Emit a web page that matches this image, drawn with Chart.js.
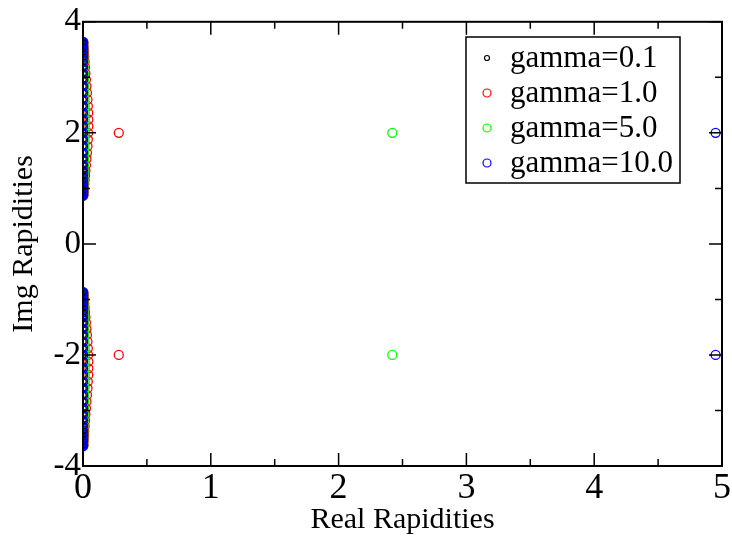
<!DOCTYPE html>
<html>
<head>
<meta charset="utf-8">
<title>Rapidities</title>
<script src="https://cdn.jsdelivr.net/npm/chart.js@4/dist/chart.umd.min.js"></script>
<style>
    html, body { margin: 0; padding: 0; background: #fff; }
    #wrap { width: 732px; height: 541px; }
</style>
</head>
<body>
<div id="wrap"><canvas id="chart" width="732" height="541"></canvas></div>
<script>
// imaginary parts of the string-like cluster (upper and lower half)
const imagUpper = [0.87, 0.88, 0.90, 0.93, 0.97, 1.02, 1.08, 1.15, 1.23, 1.32, 1.42, 1.53, 1.64, 1.76,
    1.88, 2.00, 2.12, 2.24, 2.36, 2.48, 2.60, 2.72, 2.84, 2.96, 3.07, 3.18, 3.28, 3.37, 3.45, 3.52,
    3.57, 3.61, 3.63, 3.64];
const imagLower = [-0.87, -0.88, -0.90, -0.93, -0.97, -1.02, -1.08, -1.15, -1.23, -1.32, -1.42, -1.53, -1.64, -1.76,
    -1.88, -2.00, -2.12, -2.24, -2.36, -2.48, -2.60, -2.72, -2.84, -2.96, -3.07, -3.18, -3.28, -3.37, -3.45, -3.52,
    -3.57, -3.61, -3.63, -3.64];

// real parts of the cluster for each gamma
const realG01 = [0.001, 0.001, 0.001, 0.001, 0.001, 0.001, 0.002, 0.002, 0.002, 0.002, 0.002, 0.002, 0.002, 0.002,
    0.002, 0.002, 0.002, 0.002, 0.002, 0.002, 0.002, 0.002, 0.002, 0.002, 0.002, 0.002, 0.002, 0.002, 0.001, 0.001,
    0.001, 0.001, 0.001, 0.001];
const realG1 = [0.002, 0.003, 0.004, 0.005, 0.006, 0.008, 0.010, 0.013, 0.016, 0.019, 0.023, 0.027, 0.031, 0.035,
    0.038, 0.040, 0.042, 0.042, 0.041, 0.038, 0.035, 0.031, 0.027, 0.023, 0.019, 0.016, 0.013, 0.010, 0.008, 0.006,
    0.004, 0.003, 0.002, 0.002];
const realG5 = [0.001, 0.001, 0.001, 0.002, 0.002, 0.003, 0.004, 0.005, 0.006, 0.007, 0.008, 0.010, 0.011, 0.012,
    0.013, 0.014, 0.014, 0.014, 0.014, 0.013, 0.012, 0.011, 0.010, 0.008, 0.007, 0.006, 0.005, 0.004, 0.003, 0.002,
    0.002, 0.001, 0.001, 0.001];
const realG10 = [0.000, 0.000, 0.000, 0.001, 0.001, 0.001, 0.001, 0.001, 0.001, 0.001, 0.001, 0.001, 0.001, 0.001,
    0.001, 0.001, 0.001, 0.001, 0.001, 0.001, 0.001, 0.001, 0.001, 0.001, 0.001, 0.001, 0.001, 0.001, 0.001, 0.001,
    0.000, 0.000, 0.000, 0.000];

// the isolated pair (real, +/-imag) that leaves the axis
const isolatedReal = [null, 0.28, 2.42, 4.95];
const isolatedImag = [2.0, -2.0];

const seriesLabels = ['gamma=0.1', 'gamma=1.0', 'gamma=5.0', 'gamma=10.0'];
const seriesColors = ['#000000', '#ff0000', '#00ff00', '#0000ff'];
const seriesReal = [realG01, realG1, realG5, realG10];
const seriesOrder = [1, 3, 2, 0]; // blue on top, black just under it

const xTicks = [0, 1, 2, 3, 4, 5];
const yTicks = [-4, -2, 0, 2, 4];

const SERIF = '"Liberation Serif", "DejaVu Serif", serif';

function buildPoints(i) {
    const pts = [];
    seriesReal[i].forEach((re, k) => pts.push({ x: re, y: imagUpper[k] }));
    seriesReal[i].forEach((re, k) => pts.push({ x: re, y: imagLower[k] }));
    if (isolatedReal[i] !== null) {
        isolatedImag.forEach(im => pts.push({ x: isolatedReal[i], y: im }));
    }
    return pts;
}

const datasets = seriesLabels.map((label, i) => ({
    label: label,
    data: buildPoints(i),
    showLine: false,
    pointStyle: 'circle',
    pointRadius: i === 0 ? 3 : 4.5,
    pointBorderWidth: 1.3,
    pointBorderColor: seriesColors[i],
    pointBackgroundColor: 'rgba(0,0,0,0)',
    borderColor: seriesColors[i],
    order: seriesOrder[i]
}));

// frame, inward ticks and the boxed legend, grace style
const framePlugin = {
    id: 'frame',
    afterDraw(chart) {
        const { ctx, chartArea: a, scales } = chart;
        ctx.save();
        ctx.strokeStyle = '#000';
        ctx.lineWidth = 2;
        ctx.strokeRect(a.left, a.top, a.right - a.left, a.bottom - a.top);

        ctx.lineWidth = 1.5;
        ctx.beginPath();
        for (let v = 0; v <= 5.001; v += 0.5) {
            const px = scales.x.getPixelForValue(v);
            const len = Math.abs(v - Math.round(v)) < 1e-6 ? 13 : 7;
            ctx.moveTo(px, a.bottom); ctx.lineTo(px, a.bottom - len);
            ctx.moveTo(px, a.top); ctx.lineTo(px, a.top + len);
        }
        for (let v = -4; v <= 4.001; v += 1) {
            const py = scales.y.getPixelForValue(v);
            const len = Math.abs(v % 2) < 1e-6 ? 13 : 7;
            ctx.moveTo(a.left, py); ctx.lineTo(a.left + len, py);
            ctx.moveTo(a.right, py); ctx.lineTo(a.right - len, py);
        }
        ctx.stroke();

        // legend
        const bx = 466, by = 37, bw = 214, bh = 146;
        ctx.fillStyle = '#fff';
        ctx.fillRect(bx, by, bw, bh);
        ctx.lineWidth = 1.5;
        ctx.strokeStyle = '#000';
        ctx.strokeRect(bx, by, bw, bh);
        ctx.font = '31px ' + SERIF;
        ctx.textBaseline = 'middle';
        ctx.textAlign = 'left';
        seriesLabels.forEach((label, i) => {
            const y = 58 + i * 35;
            ctx.beginPath();
            ctx.lineWidth = 1.2;
            ctx.strokeStyle = seriesColors[i];
            ctx.arc(487, y, i === 0 ? 2.5 : 4, 0, Math.PI * 2);
            ctx.stroke();
            ctx.fillStyle = '#000';
            ctx.fillText(label, 510, y + 1);
        });
        ctx.restore();
    }
};

new Chart(document.getElementById('chart'), {
    type: 'scatter',
    data: { datasets: datasets },
    options: {
        responsive: false,
        animation: false,
        layout: { padding: { top: 19, right: 7, left: 0, bottom: 0 } },
        plugins: {
            legend: { display: false },
            tooltip: { enabled: false }
        },
        scales: {
            x: {
                type: 'linear',
                min: 0,
                max: 5,
                afterFit(scale) { scale.height = 75; },
                afterBuildTicks(scale) { scale.ticks = xTicks.map(v => ({ value: v })); },
                grid: { display: false, drawTicks: false },
                border: { display: false },
                ticks: {
                    color: '#000',
                    padding: 1,
                    font: { family: SERIF, size: 36 },
                    maxRotation: 0
                },
                title: {
                    display: true,
                    text: 'Real Rapidities',
                    color: '#000',
                    font: { family: SERIF, size: 30 },
                    padding: { top: -6, bottom: 3 }
                }
            },
            y: {
                type: 'linear',
                min: -4,
                max: 4,
                afterFit(scale) { scale.width = 83; },
                afterBuildTicks(scale) { scale.ticks = yTicks.map(v => ({ value: v })); },
                grid: { display: false, drawTicks: false },
                border: { display: false },
                ticks: {
                    color: '#000',
                    padding: 2,
                    font: { family: SERIF, size: 33 }
                },
                title: {
                    display: true,
                    text: 'Img Rapidities',
                    color: '#000',
                    font: { family: SERIF, size: 30 },
                    padding: { top: 6, bottom: 0 }
                }
            }
        }
    },
    plugins: [framePlugin]
});
</script>
</body>
</html>
